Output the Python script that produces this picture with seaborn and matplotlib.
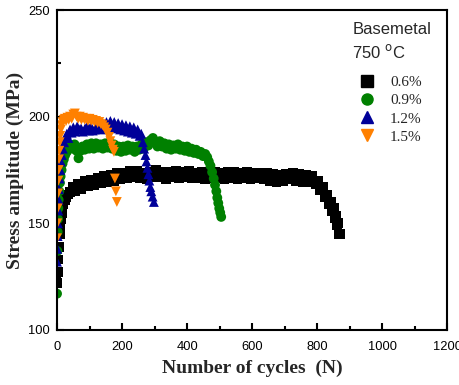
import pandas as pd
import seaborn as sns
import matplotlib.pyplot as plt
from matplotlib.ticker import MultipleLocator

# values (cycles, stress amplitude in MPa)
cyc_06 = [0, 2, 4, 6, 8, 10, 12, 14, 17, 20, 24, 28, 33, 40, 48, 56, 65, 75, 85, 95,
          105, 115, 125, 135, 145, 155, 165, 175, 185, 195, 205, 215, 225, 235, 245, 255,
          265, 275, 285, 295, 305, 315, 325, 335, 345, 355, 365, 375, 385, 395, 405, 415,
          425, 435, 445, 455, 465, 475, 485, 495, 505, 515, 525, 535, 545, 555, 565, 575,
          585, 595, 605, 615, 625, 635, 645, 655, 665, 675, 685, 695, 705, 715, 725, 735,
          745, 755, 765, 775, 785, 795, 803, 810, 817, 824, 830, 836, 842, 847, 851, 855,
          859, 862, 865, 868, 871]
amp_06 = [122, 127, 133, 139, 145, 149, 152, 155, 157, 159, 161, 162.5, 163.5, 164.5, 167,
          165, 168.5, 166, 170, 167.5, 170.5, 168, 171.5, 169, 172, 169.5, 172.5, 170, 173.5,
          170.5, 173.5, 171, 174.5, 171.5, 174.5, 171, 173.5, 170.5, 174, 171.5, 175, 171.5,
          174, 170.5, 174, 171.5, 174.5, 171, 174, 171.5, 174.5, 171, 173.5, 171, 174, 170.5,
          173.5, 171, 174, 171, 173.5, 170.5, 174, 171, 174, 170.5, 173.5, 171, 174, 170.5,
          173.5, 171, 173.5, 170.5, 173.5, 170, 173, 169.5, 172.5, 170, 173, 170.5, 173.5,
          170, 173, 169.5, 172.5, 169.5, 172, 168.5, 170, 165.5, 167, 162.5, 163.5, 159, 160,
          155.5, 157, 152.5, 153.5, 149, 150, 145, 145]

cyc_09 = [0, 1, 2, 3, 4, 5, 7, 9, 11, 14, 17, 21, 25, 30, 36, 42, 48, 54, 60, 66, 72, 78,
          85, 92, 99, 106, 113, 120, 127, 134, 141, 148, 155, 162, 169, 176, 183, 190, 197,
          204, 211, 218, 225, 232, 239, 246, 253, 260, 267, 274, 281, 288, 295, 302, 309, 316,
          323, 330, 337, 344, 351, 358, 365, 372, 379, 386, 393, 400, 407, 414, 421, 428, 435,
          442, 449, 456, 462, 467, 472, 477, 482, 486, 490, 493, 496, 499, 502, 505]
amp_09 = [117, 137, 146, 152, 157, 161, 165, 169, 172, 175, 178, 180, 182, 183.5, 185, 186,
          185, 187, 184, 180.5, 184, 186, 184.5, 187, 185, 187.5, 185, 187.5, 185.5, 187, 185,
          187.5, 185.5, 188, 185, 187, 184, 186, 183.5, 186, 184, 186.5, 184.5, 186, 183.5,
          186, 184.5, 187, 185, 188, 186.5, 189, 190, 188, 186, 188.5, 186, 187.5, 185, 187,
          184.5, 186.5, 185, 187, 184.5, 186, 184, 186, 183.5, 185, 183, 184.5, 182.5, 183.5,
          181.5, 182.5, 181, 179, 177, 174, 171, 168, 165, 162, 159.5, 157, 155, 153]

cyc_12 = [0, 1, 2, 3, 4, 5, 6, 8, 10, 12, 15, 18, 22, 26, 30, 35, 40, 45, 50, 56, 62, 68,
          74, 80, 86, 92, 98, 104, 110, 116, 122, 128, 134, 140, 146, 152, 158, 164, 170, 176,
          182, 188, 194, 200, 206, 212, 218, 224, 230, 236, 242, 248, 254, 259, 264, 268, 272,
          275, 278, 281, 284, 287, 290, 294, 298]
amp_12 = [132, 138, 144, 150, 156, 161, 166, 171, 175, 179, 182, 185, 188, 190, 192, 190,
          194, 192.5, 195, 193, 195.5, 194, 194.5, 193, 194.5, 195.5, 193.5, 195.5, 193.5, 194,
          195.5, 197, 194, 197, 194.5, 197.5, 195, 198, 195.5, 197.5, 194.5, 197, 194, 196.5,
          193.5, 196, 193, 195.5, 192.5, 195, 192, 194, 191, 192, 188, 185, 182, 179, 176, 173,
          170, 167, 165, 162.5, 160]

cyc_15 = [0, 1, 2, 3, 4, 5, 6, 7, 8, 10, 12, 14, 17, 20, 24, 28, 32, 36, 40, 45, 50, 55,
          60, 65, 70, 75, 80, 85, 90, 95, 100, 105, 110, 115, 120, 125, 130, 135, 140, 145,
          150, 155, 160, 164, 168, 172, 175, 178, 181, 184]
amp_15 = [143, 150, 157, 164, 170, 175, 180, 184, 188, 191, 194, 196, 197.5, 198.5, 199, 198,
          199.5, 198.5, 200, 199, 201, 201.5, 200, 199, 200, 198.5, 199.5, 198.5, 199, 198,
          199, 198, 198.5, 197.5, 198, 197, 197.5, 196.5, 196, 195, 194, 192.5, 190.5, 188.5,
          186.5, 184.5, 183.5, 171, 165, 160]

labels = ["0.6%", "0.9%", "1.2%", "1.5%"]
colors = ["#000000", "#008000", "#000099", "#ff8000"]
markers = ["s", "o", "^", "v"]

df = pd.concat([
    pd.DataFrame({"N": cyc_06, "amp": amp_06, "strain": labels[0]}),
    pd.DataFrame({"N": cyc_09, "amp": amp_09, "strain": labels[1]}),
    pd.DataFrame({"N": cyc_12, "amp": amp_12, "strain": labels[2]}),
    pd.DataFrame({"N": cyc_15, "amp": amp_15, "strain": labels[3]}),
])

sns.set_style("ticks")
plt.rcParams["font.family"] = ["Liberation Sans", "DejaVu Sans"]

fig = plt.figure(figsize=(4.6, 3.85), dpi=100)
ax = fig.add_axes([0.124, 0.143, 0.848, 0.831])

sns.scatterplot(data=df, x="N", y="amp", hue="strain", style="strain",
                hue_order=labels, style_order=labels,
                palette=dict(zip(labels, colors)), markers=dict(zip(labels, markers)),
                s=50, linewidth=0, ax=ax, legend=False)

ax.set_xlim(0, 1200)
ax.set_ylim(100, 250)
ax.xaxis.set_major_locator(MultipleLocator(200))
ax.xaxis.set_minor_locator(MultipleLocator(100))
ax.yaxis.set_major_locator(MultipleLocator(50))
ax.yaxis.set_minor_locator(MultipleLocator(25))
ax.tick_params(which="both", direction="in", top=False, right=False, width=1.5,
               labelsize=9.3, colors="black")
ax.tick_params(axis="x", pad=8)
ax.tick_params(axis="y", pad=5)
ax.tick_params(which="major", length=5)
ax.tick_params(which="minor", length=3)
for s in ax.spines.values():
    s.set_linewidth(1.5)
    s.set_color("black")

serif = ["Liberation Serif", "DejaVu Serif"]
ax.set_xlabel("Number of cycles  (N)", family=serif, fontweight="bold", fontsize=14, labelpad=5)
ax.set_ylabel("Stress amplitude (MPa)", family=serif, fontweight="bold", fontsize=14, labelpad=3)

ax.text(0.759, 0.94, "Basemetal", transform=ax.transAxes, fontsize=12, va="center")
ax.text(0.757, 0.87, "750 $^{\\rm o}$C", transform=ax.transAxes, fontsize=12, va="center")

handles = [plt.Line2D([], [], linestyle="none", marker=m, color=c, markersize=8)
           for m, c in zip(markers, colors)]
ax.legend(handles, labels, loc="upper left", bbox_to_anchor=(0.752, 0.815), frameon=False,
          prop={"family": serif, "size": 11}, handletextpad=0.8, labelspacing=0.3,
          handlelength=1.4, borderaxespad=0)

fig.savefig("out.png", dpi=100)
